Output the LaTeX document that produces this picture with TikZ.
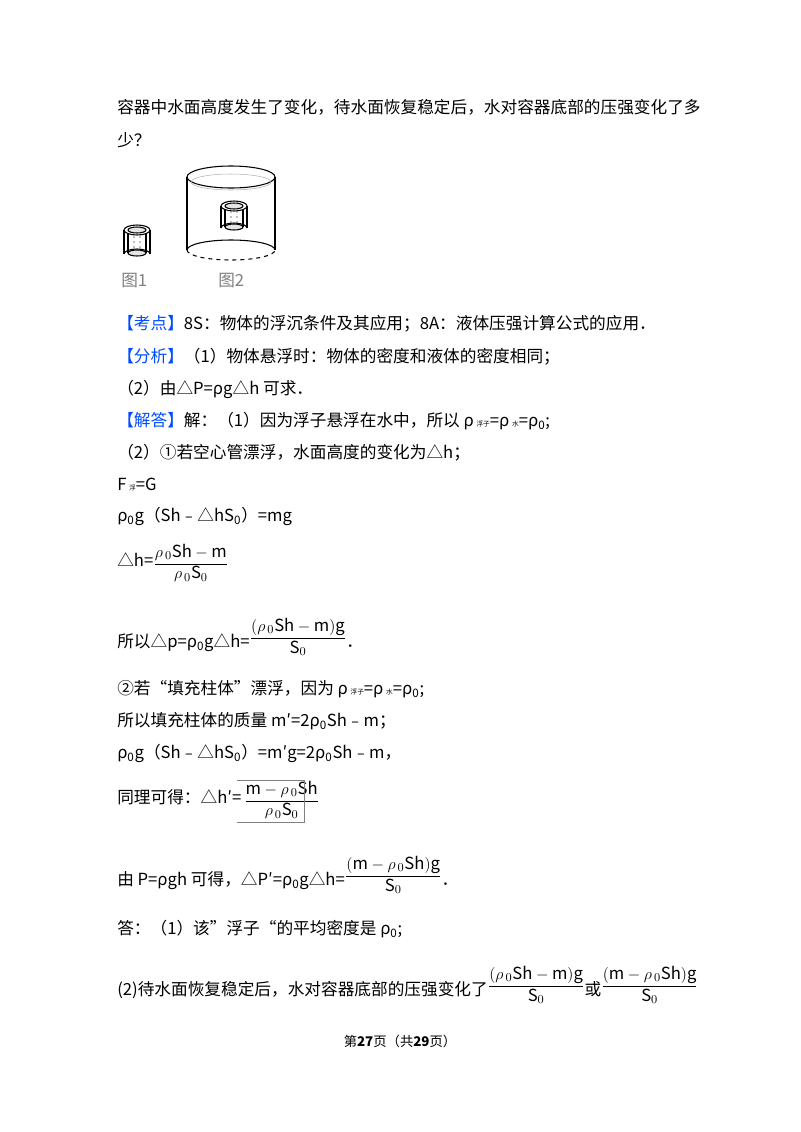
\documentclass[tikz,border=0pt]{standalone}
\usepackage{fontspec}
\setmainfont{Noto Sans CJK SC}
\newfontfamily\serifm{Liberation Serif}
\newcommand{\zz}{\textsubscript{0}}
\begin{document}
\begin{tikzpicture}[x=0.75pt,y=-0.75pt,
  t/.style={anchor=west,inner sep=0pt,font=\fontsize{12.5}{15}\selectfont}]
\useasboundingbox (0,0) rectangle (800,1132);
\fill[white] (0,0) rectangle (800,1132);
\node[t] (l1) at (117,107) {容器中水面高度发生了变化，待水面恢复稳定后，水对容器底部的压强变化了多};
\node[t] (l2) at (117,140) {少？};
% figure 1
\begin{scope}[line width=0.8pt]
\draw (124,230) -- (124,254) (150,230) -- (150,254);
\draw (137,230) ellipse (13 and 5);
\draw[fill=gray!20] (137,230) ellipse (9 and 3);
\draw (124,254) arc (180:360:13 and 5);
\draw[fill=gray!20] (137,253) ellipse (9 and 3);
\draw (128,233) -- (128,253) (146,233) -- (146,253);
\foreach \y in {237,242,247} \fill[gray] (134,\y) circle (0.8) (140,\y) circle (0.8);
% figure 2
\draw (231,177) ellipse (44 and 11);
\draw[gray!60,line width=0.4pt] (231,182) ellipse (40 and 8);
\draw (187,177) -- (187,250) (275,177) -- (275,250);
\draw (187,250) arc (180:360:44 and 10);
\draw[dashed] (187,250) arc (180:0:44 and 10);
\draw (221,206) -- (221,228) (247,206) -- (247,228);
\draw (234,206) ellipse (13 and 5);
\draw[fill=gray!20] (234,206) ellipse (9 and 3);
\draw (221,228) arc (180:360:13 and 5);
\draw[fill=gray!20] (234,227) ellipse (9 and 3);
\draw (225,209) -- (225,227) (243,209) -- (243,227);
\foreach \y in {212,217,222} \fill[gray] (231,\y) circle (0.8) (237,\y) circle (0.8);
\end{scope}
\node[t,gray] (f1) at (121,281) {图1};
\node[t,gray] (f2) at (218,281) {图2};
% text
\node[t] (k) at (117,324) {\textcolor{blue!70!cyan}{【考点】}8S：物体的浮沉条件及其应用；8A：液体压强计算公式的应用．};
\node[t] (a) at (117,357) {\textcolor{blue!70!cyan}{【分析】}（1）物体悬浮时：物体的密度和液体的密度相同；};
\node[t] (a2) at (117,389) {（2）由△P=ρg△h 可求．};
\node[t] (j) at (117,421) {\textcolor{blue!70!cyan}{【解答】}解：（1）因为浮子悬浮在水中，所以 ρ\,{\tiny 浮子}=ρ\,{\tiny 水}=ρ\zz;};
\node[t] (j2) at (117,453) {（2）①若空心管漂浮，水面高度的变化为△h；};
\node[t] (j3) at (117,485) {F\,{\tiny 浮}=G};
\node[t] (j4) at (117,516) {ρ\zz g（Sh﹣△hS\zz）=mg};
\node[t] (j5) at (117,563) {△h=\raisebox{-1pt}{\serifm$\displaystyle\frac{\rho_{\,0}\mathrm{Sh}-\mathrm{m}}{\rho_{\,0}\mathrm{S}_0}$}};
\node[t] (j6) at (117,637) {所以△p=ρ\zz g△h=\raisebox{4pt}{\serifm$\displaystyle\frac{(\rho_{\,0}\mathrm{Sh}-\mathrm{m})\mathrm{g}}{\mathrm{S}_0}$}．};
\node[t] (j7) at (117,689) {②若“填充柱体”漂浮，因为 ρ\,{\tiny 浮子}=ρ\,{\tiny 水}=ρ\zz;};
\node[t] (j8) at (117,721) {所以填充柱体的质量 m′=2ρ\zz Sh﹣m；};
\node[t] (j9) at (117,753) {ρ\zz g（Sh﹣△hS\zz）=m′g=2ρ\zz Sh﹣m，};
\node[t] (j10) at (117,800) {同理可得：△h′=\,\raisebox{-1pt}{\serifm$\displaystyle\frac{\mathrm{m}-\rho_{\,0}\mathrm{Sh}}{\rho_{\,0}\mathrm{S}_0}$}};
\draw[gray] (237,780) -- (304,780) -- (304,822) -- (237,822);
\node[t] (j11) at (117,875) {由 P=ρgh 可得，△P′=ρ\zz g△h=\raisebox{4pt}{\serifm$\displaystyle\frac{(\mathrm{m}-\rho_{\,0}\mathrm{Sh})\mathrm{g}}{\mathrm{S}_0}$}．};
\node[t] (d1) at (117,929) {答：（1）该”浮子“的平均密度是 ρ\zz;};
\node[t] (d2) at (117,985) {(2)待水面恢复稳定后，水对容器底部的压强变化了\raisebox{4pt}{\serifm$\displaystyle\frac{(\rho_{\,0}\mathrm{Sh}-\mathrm{m})\mathrm{g}}{\mathrm{S}_0}$}或\raisebox{4pt}{\serifm$\displaystyle\frac{(\mathrm{m}-\rho_{\,0}\mathrm{Sh})\mathrm{g}}{\mathrm{S}_0}$}};
\node[inner sep=0pt,font=\fontsize{10}{12}\selectfont] (ft) at (400,1041) {第\textbf{27}页（共\textbf{29}页）};
\end{tikzpicture}
\end{document}
